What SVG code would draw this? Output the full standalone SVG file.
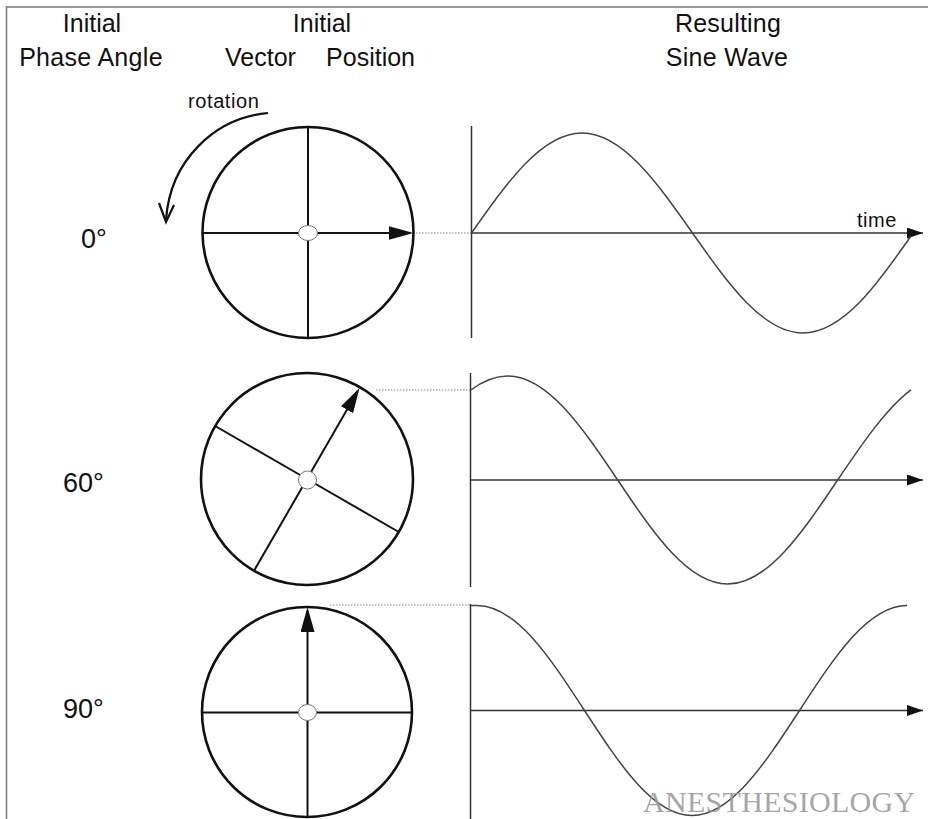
<svg xmlns="http://www.w3.org/2000/svg" width="928" height="819" viewBox="0 0 928 819">
<defs>
<style>
.hdr{font-family:"Liberation Sans",Arial,sans-serif;font-size:25px;fill:#111}
.deg{font-family:"Liberation Sans",Arial,sans-serif;font-size:27px;fill:#111}
.small{font-family:"Liberation Sans",Arial,sans-serif;font-size:20px;fill:#111}
.rim{fill:none;stroke:#111;stroke-width:2.6}
.spoke{stroke:#111;stroke-width:2;fill:none}
.vec{stroke:#111;stroke-width:2;fill:none;marker-end:url(#vhead)}
.hub{fill:#fff;stroke:#777;stroke-width:1}
.axis{stroke:#333;stroke-width:1.5;fill:none}
.taxis{stroke:#333;stroke-width:1.5;fill:none;marker-end:url(#ahead)}
.wave{stroke:#444;stroke-width:1.5;fill:none}
.dot{stroke:#888;stroke-width:1.2;stroke-dasharray:1.5 1.5;fill:none}
.frame{stroke:#777;stroke-width:1.5;fill:none}
</style>
<marker id="vhead" viewBox="0 0 25 14" refX="21" refY="7" markerWidth="25" markerHeight="14" markerUnits="userSpaceOnUse" orient="auto">
<path d="M0,0 L25,7 L0,14 z" fill="#111"/>
</marker>
<marker id="ahead" viewBox="0 0 16 11" refX="16" refY="5.5" markerWidth="16" markerHeight="11" markerUnits="userSpaceOnUse" orient="auto">
<path d="M0,0 L16,5.5 L0,11 z" fill="#111"/>
</marker>
</defs>
<rect width="928" height="819" fill="#fff"/>
<path class="frame" d="M6.5,819 L6.5,7 L928,7"/>

<g id="headers">
<text class="hdr" x="92" y="32" text-anchor="middle">Initial</text>
<text class="hdr" x="91" y="66" text-anchor="middle" letter-spacing="0.3">Phase Angle</text>
<text class="hdr" x="322" y="32" text-anchor="middle">Initial</text>
<text class="hdr" x="225" y="66">Vector</text>
<text class="hdr" x="415" y="66" text-anchor="end">Position</text>
<text class="hdr" x="728" y="32" text-anchor="middle" letter-spacing="0.2">Resulting</text>
<text class="hdr" x="727" y="66" text-anchor="middle" letter-spacing="0.3">Sine Wave</text>
</g>

<g id="phase-labels">
<text class="deg" x="81" y="248">0°</text>
<text class="deg" x="63" y="492">60°</text>
<text class="deg" x="63" y="718">90°</text>
</g>

<g id="rotation">
<text class="small" x="188" y="108" letter-spacing="0.6">rotation</text>
<path d="M268,113 C215,118 170,160 166,220" stroke="#111" stroke-width="2.2" fill="none"/>
<path d="M159,203 L166,222 L174,205" stroke="#111" stroke-width="2.2" fill="none" stroke-linejoin="miter"/>
</g>

<g id="phasor-0">
<circle class="rim" cx="308" cy="232.5" r="105.5"/>
<line class="spoke" x1="202.5" y1="233" x2="308" y2="233"/>
<line class="spoke" x1="308" y1="127" x2="308" y2="338"/>
<line class="vec" x1="308" y1="233" x2="409.5" y2="233"/>
<ellipse class="hub" cx="308" cy="233" rx="9.5" ry="7.5"/>
</g>

<g id="phasor-60">
<circle class="rim" cx="307" cy="479" r="106"/>
<line class="spoke" x1="307" y1="479" x2="215.2" y2="426"/>
<line class="spoke" x1="307" y1="479" x2="254" y2="570.8"/>
<line class="spoke" x1="307" y1="479" x2="398.8" y2="532"/>
<line class="vec" x1="307" y1="479" x2="357.5" y2="391.5"/>
<circle class="hub" cx="307.5" cy="480" r="9"/>
</g>

<g id="phasor-90">
<circle class="rim" cx="307" cy="712" r="105"/>
<line class="spoke" x1="202" y1="712.5" x2="412" y2="712.5"/>
<line class="spoke" x1="307.5" y1="712" x2="307.5" y2="817"/>
<line class="vec" x1="307.5" y1="712" x2="307.5" y2="611"/>
<ellipse class="hub" cx="307.5" cy="712.5" rx="9" ry="8"/>
</g>

<g id="connectors">
<line class="dot" x1="416" y1="233" x2="471" y2="233"/>
<line class="dot" x1="376" y1="390" x2="470" y2="390"/>
<line class="dot" x1="330" y1="605" x2="470" y2="605"/>
</g>

<g id="wave-0">
<line class="axis" x1="471.5" y1="126" x2="471.5" y2="338"/>
<line class="taxis" x1="471.5" y1="233" x2="923" y2="233"/>
<text class="small" x="857" y="227" letter-spacing="0.5">time</text>
<path class="wave" d="M471.5,233 C507.53,181.77 542.01,133 582,133 C621.99,133 656.47,181.77 692.5,233 C728.53,284.23 763.01,333 803,333 C842.99,333 877.47,284.23 911,236"/>
</g>

<g id="wave-60">
<line class="axis" x1="470.5" y1="373" x2="470.5" y2="587"/>
<line class="taxis" x1="470.5" y1="480" x2="923" y2="480"/>
<path class="wave" d="M471,389.93 C483.22,380.86 495.45,376 507.67,376 C547.48,376 581.8,426.72 617.67,480 C653.54,533.28 687.86,584 727.67,584 C767.48,584 801.8,533.28 837.67,480 C862.11,443.7 886.56,408.08 911,389.93"/>
</g>

<g id="wave-90">
<line class="axis" x1="470.5" y1="604" x2="470.5" y2="819"/>
<line class="taxis" x1="470.5" y1="710.5" x2="923" y2="710.5"/>
<path class="wave" d="M471,605.5 L477,605.5 C515.9,605.5 549.44,656.71 584.5,710.5 C619.56,764.29 653.1,815.5 692,815.5 C730.9,815.5 764.44,764.29 799.5,710.5 C834.56,656.71 868.1,605.5 907,605.5"/>
</g>

<text id="watermark" x="643" y="812" font-family="'Liberation Serif','Times New Roman',serif" font-size="30" letter-spacing="0.3" fill="#9a9a9a" fill-opacity="0.9">ANESTHESIOLOGY</text>
</svg>
